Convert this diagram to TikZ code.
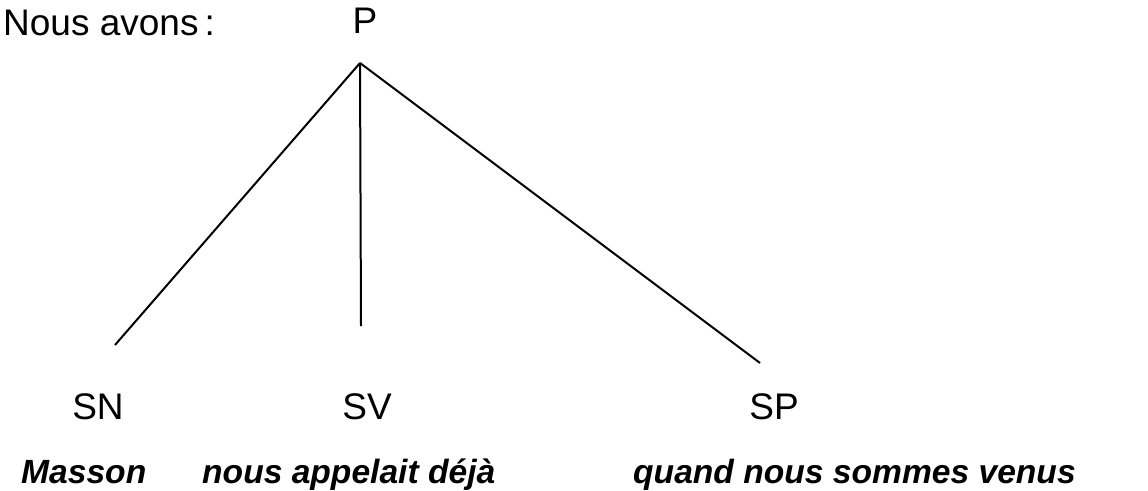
\documentclass[tikz,border=0pt]{standalone}
\usepackage{fontspec}
\setmainfont{Liberation Sans}
\begin{document}
\begin{tikzpicture}[x=1pt,y=-1pt,
  lbl/.style={inner sep=0pt,font=\fontsize{37}{42}\selectfont},
  phr/.style={inner sep=0pt,anchor=base west,font=\fontsize{33.6}{38}\selectfont\bfseries\itshape},
  branch/.style={line width=2pt}]
\useasboundingbox (0,0) rectangle (1148,490);
\node[lbl,anchor=base west] (intro) at (3,35) {Nous avons\,:};
\node[lbl,anchor=base] (P) at (365,33) {P};
\coordinate (top) at (360,63);
\coordinate (snend) at (115,345);
\coordinate (svend) at (361,326);
\coordinate (spend) at (760,363);
\draw[branch] (top) -- (snend);
\draw[branch] (top) -- (svend);
\draw[branch] (top) -- (spend);
\node[lbl,anchor=base] (SN) at (98,419) {SN};
\node[lbl,anchor=base] (SV) at (367,419) {SV};
\node[lbl,anchor=base] (SP) at (774,419) {SP};
\node[phr] (m) at (21,483) {Masson};
\node[phr] (v) at (202,483) {nous appelait déjà};
\node[phr] (q) at (633,483) {quand nous sommes venus};
\end{tikzpicture}
\end{document}
